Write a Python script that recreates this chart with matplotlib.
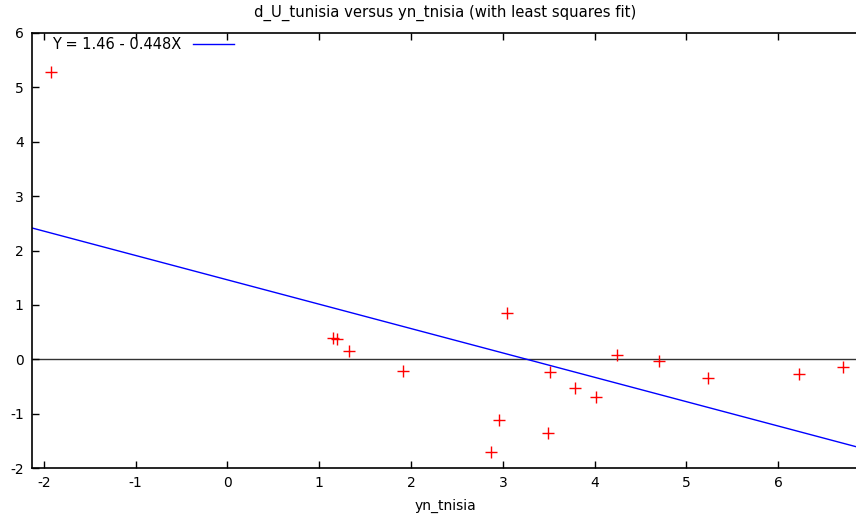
import numpy as np
import matplotlib
matplotlib.use("Agg")
import matplotlib.pyplot as plt

# data
yn_tnisia = [-1.92, 1.15, 1.19, 1.32, 1.91, 3.05, 2.96, 2.87, 3.49, 3.51,
             3.79, 4.01, 4.24, 4.70, 5.24, 6.23, 6.71]
d_U_tunisia = [5.28, 0.40, 0.37, 0.15, -0.22, 0.85, -1.12, -1.71, -1.36, -0.24,
               -0.53, -0.70, 0.07, -0.04, -0.35, -0.28, -0.15]
fit_a, fit_b = 1.46, -0.448
x_ticks = [-2, -1, 0, 1, 2, 3, 4, 5, 6]
y_ticks = [-2, -1, 0, 1, 2, 3, 4, 5, 6]

plt.rcParams["axes.unicode_minus"] = False

W, H = 856, 516
fig = plt.figure(figsize=(W / 100, H / 100), dpi=100)
ax = fig.add_axes([32 / W, 1 - 468 / H, 826 / W, 435 / H])

xmin, xmax = -2.13, 6.87
xx = np.array([xmin, xmax])
ax.axhline(0, color="#333333", linewidth=1, zorder=1)
ax.plot(yn_tnisia, d_U_tunisia, linestyle="none", marker="+", markersize=8,
        markeredgewidth=1, color="#ff0000", zorder=3)
ax.plot(xx, fit_a + fit_b * xx, color="#0000ff", linewidth=1,
        label=f"Y = {fit_a} - {abs(fit_b)}X", zorder=2)

ax.set_xlim(xmin, xmax)
ax.set_ylim(-2, 6)
ax.set_xticks(x_ticks)
ax.set_yticks(y_ticks)
ax.tick_params(direction="in", length=5, width=1, top=True, right=False,
               labelsize=10, pad=6, colors="black")
ax.spines["right"].set_visible(False)
for s in ax.spines.values():
    s.set_linewidth(1.2)

ax.set_xlabel("yn_tnisia", fontsize=10, labelpad=6)
ax.set_title("d_U_tunisia versus yn_tnisia (with least squares fit)",
             fontsize=10.7, pad=12)
ax.legend(loc="upper left", frameon=False, markerfirst=False, fontsize=10.5,
          handlelength=2.8, borderaxespad=0.1, borderpad=0.15,
          handletextpad=0.8, bbox_to_anchor=(0.02, 1.0))

fig.savefig("out.png", dpi=100)
